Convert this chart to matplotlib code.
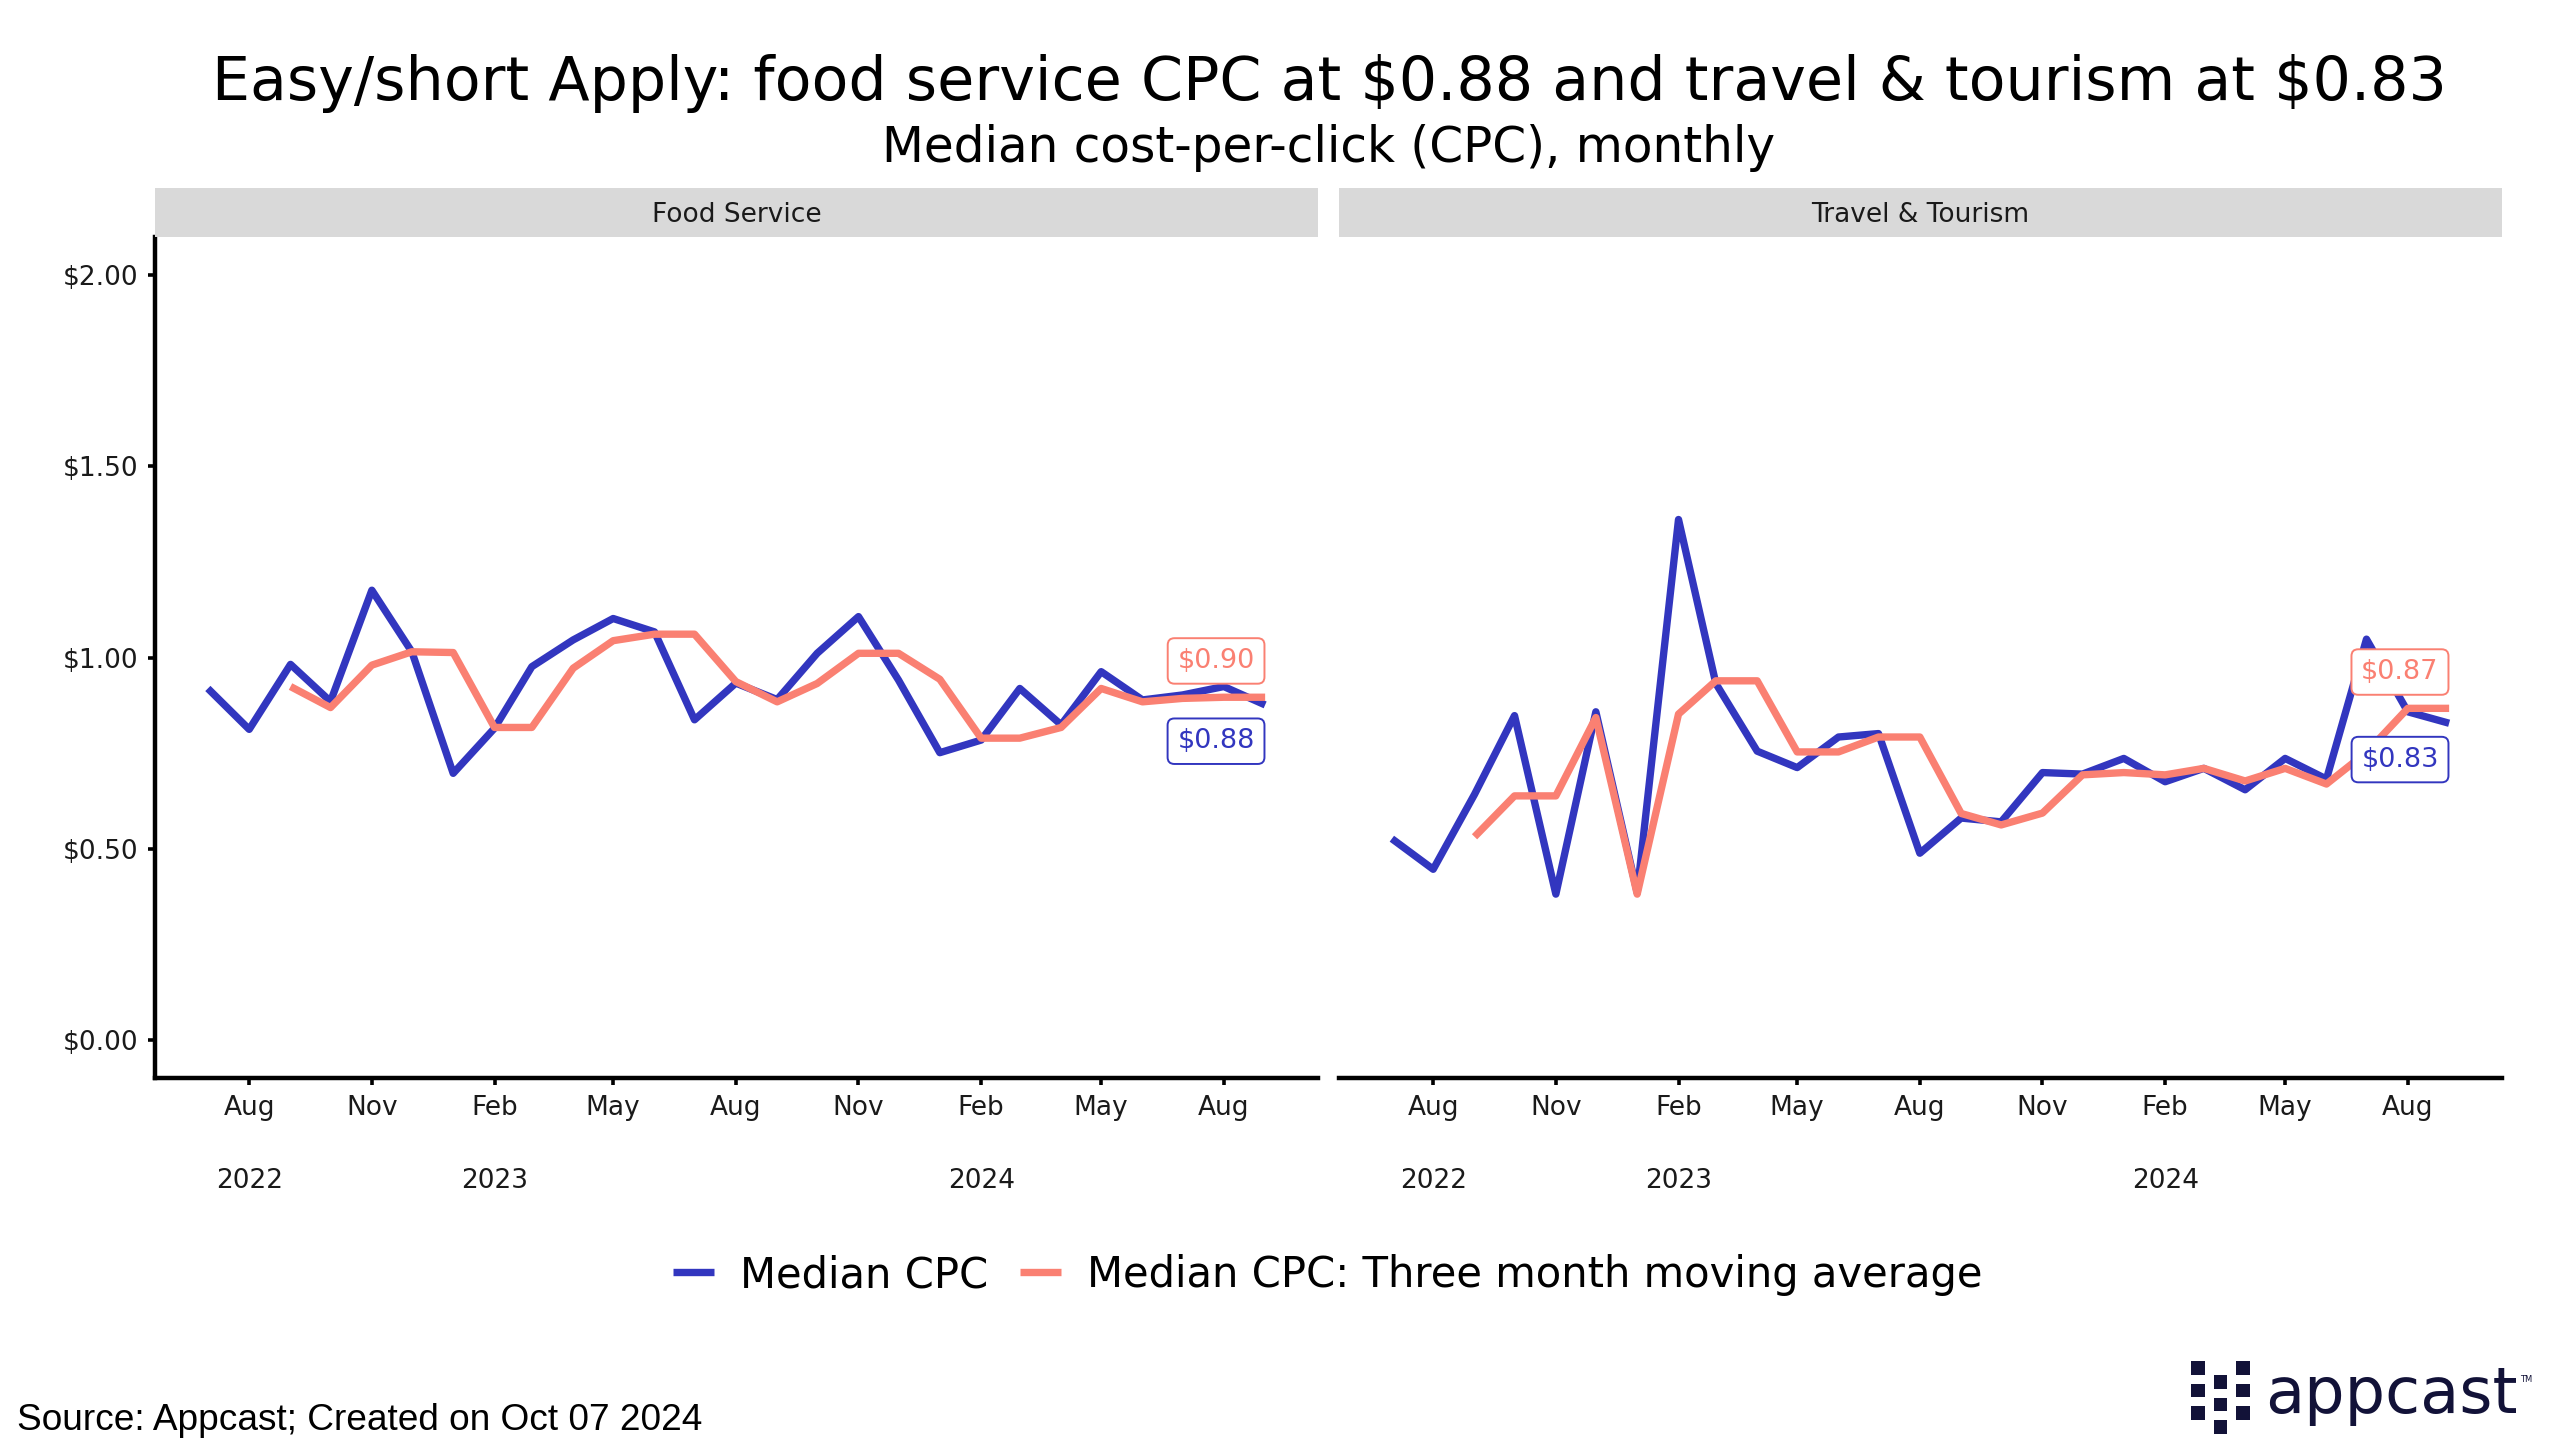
import matplotlib
matplotlib.use("Agg")
import matplotlib.pyplot as plt
import matplotlib.dates as mdates
from matplotlib.ticker import FixedLocator, StrMethodFormatter
from matplotlib.patches import Rectangle
import numpy as np
import pandas as pd

# ---------------- data ----------------
months = pd.date_range("2022-07-01", "2024-09-01", freq="MS")
panel_titles = ["Food Service", "Travel & Tourism"]
series_names = ["Median CPC", "Median CPC: Three month moving average"]

food_cpc = [0.919, 0.812, 0.982, 0.885, 1.176, 1.015, 0.697, 0.815, 0.976, 1.046,
            1.102, 1.067, 0.837, 0.933, 0.890, 1.011, 1.107, 0.941, 0.751, 0.784,
            0.919, 0.824, 0.963, 0.889, 0.902, 0.924, 0.876]
food_ma = [np.nan, np.nan, 0.924, 0.869, 0.980, 1.015, 1.013, 0.817, 0.817, 0.972,
           1.044, 1.061, 1.061, 0.937, 0.884, 0.932, 1.011, 1.011, 0.943, 0.789,
           0.789, 0.817, 0.919, 0.884, 0.893, 0.896, 0.896]
travel_cpc = [0.526, 0.446, 0.642, 0.848, 0.381, 0.858, 0.385, 1.361, 0.932, 0.755,
              0.712, 0.792, 0.801, 0.488, 0.580, 0.570, 0.699, 0.695, 0.736, 0.675,
              0.710, 0.654, 0.736, 0.682, 1.048, 0.858, 0.828]
travel_ma = [np.nan, np.nan, 0.531, 0.638, 0.638, 0.843, 0.381, 0.852, 0.939, 0.939,
             0.753, 0.753, 0.792, 0.792, 0.592, 0.562, 0.593, 0.693, 0.699, 0.693,
             0.710, 0.677, 0.710, 0.669, 0.752, 0.867, 0.867]

y_ticks = [0.0, 0.5, 1.0, 1.5, 2.0]
y_limits = [0.0, 2.0]
year_label_dates = ["2022-08-01", "2023-02-01", "2024-02-01"]
year_labels = ["2022", "2023", "2024"]

title = "Easy/short Apply: food service CPC at \\$0.88 and travel & tourism at \\$0.83"
subtitle = "Median cost-per-click (CPC), monthly"
source = "Source: Appcast; Created on Oct 07 2024"

# ---------------- style ----------------
BLUE = "#3236BF"
SALMON = "#FA8072"
NAVY = "#121238"
FONT = ["DejaVu Sans"]
plt.rcParams["font.family"] = FONT

W, H = 2560, 1455
fig = plt.figure(figsize=(W / 100, H / 100), dpi=100)
fig.patch.set_facecolor("white")


def fx(px):
    return px / W


def fy(py):
    return 1 - py / H


renderer = fig.canvas.get_renderer()


def fit_width(t, target):
    w = t.get_window_extent(renderer).width
    t.set_fontsize(t.get_fontsize() * target / w)


panel_left = [155, 1339]
panel_w = 1163
panel_top, panel_bottom = 237, 1078
strip_top = 187.5

span = months[-1] - months[0]
xlim = (mdates.date2num(months[0] - span * 0.05), mdates.date2num(months[-1] + span * 0.05))
yr = y_limits[1] - y_limits[0]
ylim = (y_limits[0] - 0.05 * yr, y_limits[1] + 0.05 * yr)

data = [(food_cpc, food_ma), (travel_cpc, travel_ma)]
axes = []
for i, (left, name) in enumerate(zip(panel_left, panel_titles)):
    ax = fig.add_axes([fx(left), fy(panel_bottom), panel_w / W,
                       (panel_bottom - panel_top) / H])
    axes.append(ax)
    cpc, ma = data[i]
    lb, = ax.plot(months, cpc, color=BLUE, lw=5.3, solid_capstyle="butt",
                  solid_joinstyle="round", label=series_names[0], zorder=3)
    lo, = ax.plot(months, ma, color=SALMON, lw=5.3, solid_capstyle="butt",
                  solid_joinstyle="round", label=series_names[1], zorder=4)
    if i == 0:
        handles = [lb, lo]
    ax.set_xlim(*xlim)
    ax.set_ylim(*ylim)
    ax.xaxis.set_major_locator(mdates.MonthLocator(bymonth=[2, 5, 8, 11]))
    ax.xaxis.set_major_formatter(mdates.DateFormatter("%b"))
    ax.yaxis.set_major_locator(FixedLocator(y_ticks))
    ax.yaxis.set_major_formatter(StrMethodFormatter("${x:.2f}"))
    for s in ["top", "right"]:
        ax.spines[s].set_visible(False)
    ax.spines["bottom"].set_linewidth(3.2)
    ax.spines["left"].set_linewidth(3.2)
    ax.tick_params(axis="both", length=5, width=2.6, color="black",
                   labelsize=19, labelcolor="#1a1a1a", pad=7)
    if i == 1:
        ax.spines["left"].set_visible(False)
        ax.tick_params(axis="y", left=False, labelleft=False)

    # year labels under the month labels
    for d, lab in zip(year_label_dates, year_labels):
        ax.annotate(lab, xy=(mdates.date2num(pd.Timestamp(d)), 0),
                    xycoords=ax.get_xaxis_transform(),
                    xytext=(0, -(1188 - panel_bottom) * 0.72), textcoords="offset points",
                    ha="center", va="baseline", fontsize=19, color="#1a1a1a",
                    annotation_clip=False)

    # end-value labels
    xl = mdates.date2num(months[-1])
    for val, col, off in [(ma[-1], SALMON, 0.095), (cpc[-1], BLUE, -0.095)]:
        ax.annotate(f"${val:.2f}", xy=(xl, val + off), xycoords="data",
                    xytext=(-7.5, 0), textcoords="offset points",
                    ha="right", va="center", fontsize=19.5, color=col, zorder=6,
                    bbox=dict(boxstyle="round,pad=0.36,rounding_size=0.25",
                              fc="white", ec=col, lw=1.4),
                    annotation_clip=False)

    # facet strip
    fig.add_artist(Rectangle((fx(left), fy(panel_top)), panel_w / W,
                             (panel_top - strip_top) / H, transform=fig.transFigure,
                             fc="#d9d9d9", ec="none"))
    fig.text(fx(left + panel_w / 2), fy((panel_top + strip_top) / 2), name,
             ha="center", va="center_baseline", fontsize=19, color="#1a1a1a")

# ---------------- titles ----------------
t1 = fig.text(fx(1329), fy(100), title, ha="center", va="baseline", fontsize=40,
              color="black")
fit_width(t1, 2234)
t2 = fig.text(fx(1329), fy(161.7), subtitle, ha="center", va="baseline", fontsize=30,
              color="black")
fit_width(t2, 893)

# ---------------- legend ----------------
tmp = fig.text(0, 0, series_names[0], fontsize=30)
fit_width(tmp, 248.6)
lfs = tmp.get_fontsize()
tmp.remove()
lpx = lfs / 0.72
fig.legend(handles=handles, labels=series_names, loc="center",
           bbox_to_anchor=(fx(1328), fy(1275)), ncol=2, frameon=False,
           fontsize=lfs, handlelength=41 / lpx, handletextpad=26 / lpx,
           columnspacing=32 / lpx, borderpad=0, borderaxespad=0)

# ---------------- source ----------------
ts = fig.text(fx(17), fy(1430), source, ha="left", va="baseline", fontsize=26.6,
              family=["Liberation Sans", "DejaVu Sans"], color="black")
fit_width(ts, 685)

# ---------------- logo ----------------
sq = 13.5
logo_cols = [2191, 2213.5, 2236]
logo_rows = [[1361, 1383.5, 1406], [1375, 1397.5, 1420], [1361, 1383.5, 1406]]
for cx, rows in zip(logo_cols, logo_rows):
    for ry in rows:
        fig.add_artist(Rectangle((fx(cx), fy(ry + sq)), sq / W, sq / H,
                                 transform=fig.transFigure, fc=NAVY, ec="none"))
tl = fig.text(fx(2265), fy(1413), "appcast", ha="left", va="baseline", fontsize=44,
              color=NAVY)
fit_width(tl, 252)
fig.text(fx(2520), fy(1382), "TM", ha="left", va="baseline", fontsize=6, color=NAVY)

fig.savefig("out.png", dpi=100, facecolor="white")
